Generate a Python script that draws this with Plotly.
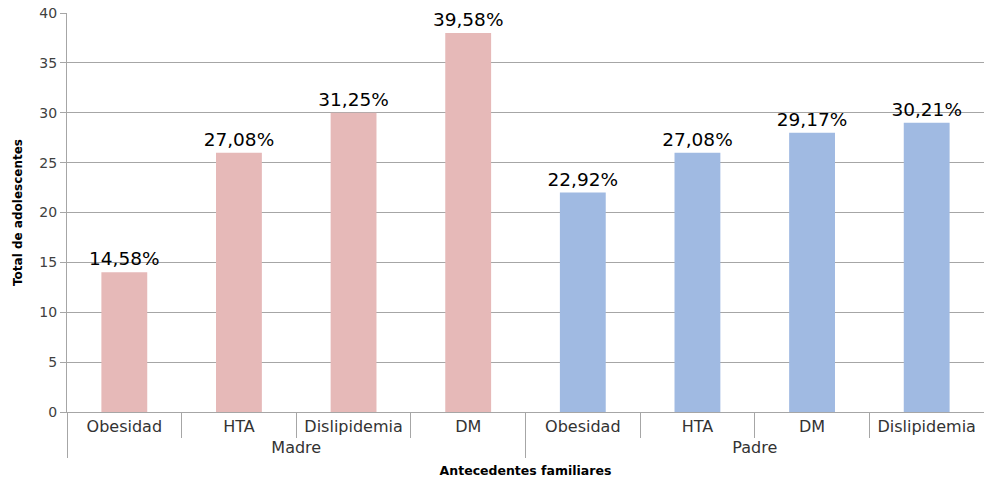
import plotly.graph_objects as go

groups = ["Madre"] * 4 + ["Padre"] * 4
categories = ["Obesidad", "HTA", "Dislipidemia", "DM", "Obesidad", "HTA", "DM", "Dislipidemia"]
values = [14, 26, 30, 38, 22, 26, 28, 29]
labels = ["14,58%", "27,08%", "31,25%", "39,58%", "22,92%", "27,08%", "29,17%", "30,21%"]
colors = ["#E6B9B8"] * 4 + ["#A0BAE2"] * 4

# Plotly orders inner categories by first appearance across groups; a zero-width
# suffix keeps the Padre order as in the original chart.
inner = [c if g == "Madre" else c + "\u200b" for g, c in zip(groups, categories)]

fig = go.Figure(go.Bar(
    x=[groups, inner],
    y=values,
    text=labels,
    textposition="outside",
    constraintext="none",
    textfont=dict(family="DejaVu Sans", size=18.5, color="#000000"),
    marker=dict(color=colors, line=dict(width=0)),
    cliponaxis=False,
))

fig.update_layout(
    width=984, height=481,
    margin=dict(l=67, r=0, t=13, b=69),
    plot_bgcolor="white", paper_bgcolor="white",
    bargap=0.6,
    showlegend=False,
    font=dict(family="DejaVu Sans", size=14, color="#404040"),
)
fig.update_yaxes(
    range=[0, 40], dtick=5,
    showgrid=True, gridcolor="#A6A6A6", gridwidth=1,
    showline=True, linecolor="#A6A6A6",
    ticks="outside", ticklen=6, tickcolor="#A6A6A6",
    tickfont=dict(family="DejaVu Sans", size=14, color="#404040"),
    title=dict(text="<b>Total de adolescentes</b>", font=dict(family="DejaVu Sans", size=12, color="#000000"), standoff=14),
)
fig.update_xaxes(
    type="multicategory",
    showline=True, linecolor="#A6A6A6",
    ticks="outside", ticklen=25, tickcolor="#A6A6A6",
    showdividers=True, dividercolor="#A6A6A6", dividerwidth=1,
    tickfont=dict(family="DejaVu Sans", size=16, color="#333333"),
    title=dict(text="<b>Antecedentes familiares</b>", font=dict(family="DejaVu Sans", size=12.5, color="#000000"), standoff=10),
)

fig.write_html("out.html")
